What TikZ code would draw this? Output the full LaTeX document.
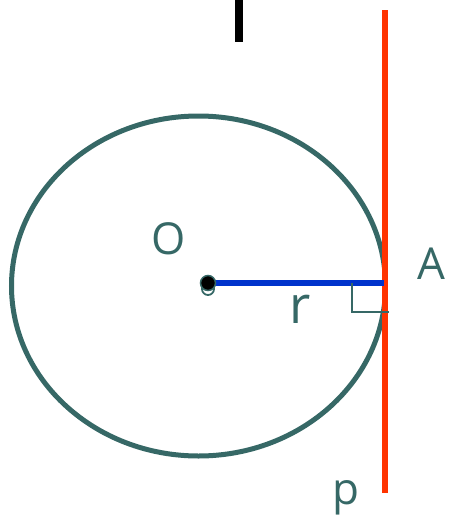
\documentclass[tikz,border=0pt]{standalone}
\usepackage{fontspec}
\setmainfont{Open Sans}
\usepackage{tikz}
\usetikzlibrary{
    arrows.meta,
    positioning
}
\definecolor{CircTeal}{RGB}{54,104,102}
\definecolor{TangRed}{RGB}{255,51,0}
\definecolor{RadBlue}{RGB}{0,51,204}
\tikzset{
  lbl/.style     = {text=CircTeal, inner sep=0pt, anchor=base,
                    font=\fontsize{44}{50}\selectfont},
  circ/.style    = {draw=CircTeal, line width=5pt},
  radius/.style  = {draw=RadBlue, line width=6pt},
  tangent/.style = {draw=TangRed, line width=5.5pt},
  rangle/.style  = {draw=CircTeal, line width=1.5pt},
  cdot/.style    = {circle, fill=black, draw=CircTeal, line width=1.5pt,
                    minimum size=15pt, inner sep=0pt},
  cring/.style   = {circle, draw=CircTeal, line width=1.8pt,
                    minimum size=12pt, inner sep=0pt}
}

\begin{document}
\begin{tikzpicture}[x=1pt,y=-1pt]
\useasboundingbox (0,0) rectangle (450,515);
\draw[line width=8pt] (239,0) -- (239,42);
\draw[circ] (198.5,286) ellipse [x radius=187, y radius=170];
\coordinate (ptop) at (385,10);
\coordinate (pbot) at (385,493);
\coordinate (A) at (384,283);
\coordinate (ctr) at (208,283);
\draw[tangent] (ptop) -- (pbot);
\node[cring] (ring) at (208,289) {};
\draw[radius] (ctr) -- (A);
\node[cdot] (O) at (ctr) {};
\draw[rangle] (352,283) -- (352,312) -- (389,312);
\node[lbl] (lblO) at (169,254) {O};
\node[lbl] (lblA) at (431,279) {A};
\node[lbl, font=\fontsize{52}{58}\selectfont] (lblr) at (300.5,323) {r};
\node[lbl] (lblp) at (345.5,504) {p};
\end{tikzpicture}
\end{document}
